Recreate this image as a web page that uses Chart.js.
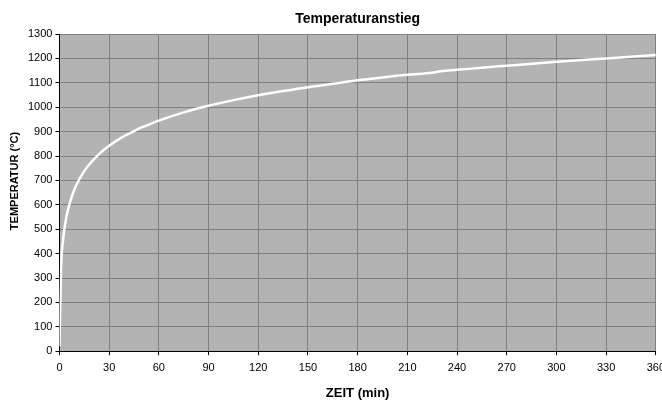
<!DOCTYPE html>
<html>
<head>
<meta charset="utf-8">
<script src="https://cdn.jsdelivr.net/npm/chart.js@4/dist/chart.umd.min.js"></script>
<style>
html,body{margin:0;padding:0;background:#fff;overflow:hidden;}
#wrap{width:671px;height:403px;position:relative;}
</style>
</head>
<body>
<div id="wrap"><canvas id="c" width="671" height="403"></canvas></div>
<script>
const timeMin = [0, 1, 2, 3, 4, 5, 7.5, 10, 15, 20, 25, 30, 35, 40, 45, 50, 55, 60, 75, 90, 105, 120, 135, 150, 165, 180, 210, 225, 230, 240, 255, 270, 300, 330, 360];
const tempC  = [20, 349, 445, 502, 544, 576, 635, 678, 739, 781, 815, 842, 865, 885, 902, 918, 932, 945, 979, 1006, 1029, 1049, 1066, 1082, 1096, 1110, 1133, 1141, 1147, 1153, 1162, 1170, 1186, 1200, 1214];
const xTicks = [0, 30, 60, 90, 120, 150, 180, 210, 240, 270, 300, 330, 360];
const yTicks = [0, 100, 200, 300, 400, 500, 600, 700, 800, 900, 1000, 1100, 1200, 1300];
const titleText = 'Temperaturanstieg';
const xTitle = 'ZEIT (min)';
const yTitle = 'TEMPERATUR (°C)';

const bgPlugin = {
  id: 'bg',
  beforeDraw(chart) {
    const {ctx, chartArea:a} = chart;
    ctx.save();
    ctx.fillStyle = '#b3b3b3';
    ctx.fillRect(a.left, a.top, a.right - a.left, a.bottom - a.top);
    ctx.restore();
  },
  afterDraw(chart) {
    const {ctx, chartArea:a} = chart;
    ctx.save();
    ctx.fillStyle = '#000';
    ctx.textAlign = 'center';
    ctx.textBaseline = 'middle';
    ctx.font = 'bold 14px "Liberation Sans", Arial';
    ctx.fillText(titleText, (a.left + a.right) / 2, 19);
    ctx.translate(15, 181);
    ctx.rotate(-Math.PI / 2);
    ctx.font = 'bold 11px "Liberation Sans", Arial';
    ctx.fillText(yTitle, 0, 0);
    ctx.restore();
  }
};

new Chart(document.getElementById('c'), {
  type: 'line',
  data: {
    datasets: [{
      data: timeMin.map((t, i) => ({x: t, y: tempC[i]})),
      borderColor: '#ffffff',
      borderWidth: 2.5,
      pointRadius: 0,
      cubicInterpolationMode: 'monotone',
      fill: false
    }]
  },
  options: {
    responsive: false,
    animation: false,
    devicePixelRatio: 1,
    layout: {padding: {left: 25, right: 0, top: 34, bottom: 0}},
    plugins: {
      legend: {display: false},
      tooltip: {enabled: false},
      title: {display: false}
    },
    scales: {
      x: {
        type: 'linear', min: 0, max: 360,
        afterBuildTicks: s => { s.ticks = xTicks.map(v => ({value: v})); },
        ticks: {color: '#000', font: {family: 'Liberation Sans, Arial', size: 11}, padding: 6, maxRotation: 0, callback: v => String(v)},
        grid: {color: '#808080', lineWidth: 1, tickLength: 4, tickColor: '#000'},
        border: {color: '#000', width: 1},
        title: {display: true, text: xTitle, color: '#000', font: {family: 'Liberation Sans, Arial', size: 13, weight: 'bold'}, padding: {top: 5, bottom: 2}}
      },
      y: {
        min: 0, max: 1300,
        afterBuildTicks: s => { s.ticks = yTicks.map(v => ({value: v})); },
        ticks: {color: '#000', font: {family: 'Liberation Sans, Arial', size: 11}, padding: 3, callback: v => String(v)},
        grid: {color: '#808080', lineWidth: 1, tickLength: 4, tickColor: '#000'},
        border: {color: '#000', width: 1},
        title: {display: false}
      }
    }
  },
  plugins: [bgPlugin]
});
</script>
</body>
</html>
